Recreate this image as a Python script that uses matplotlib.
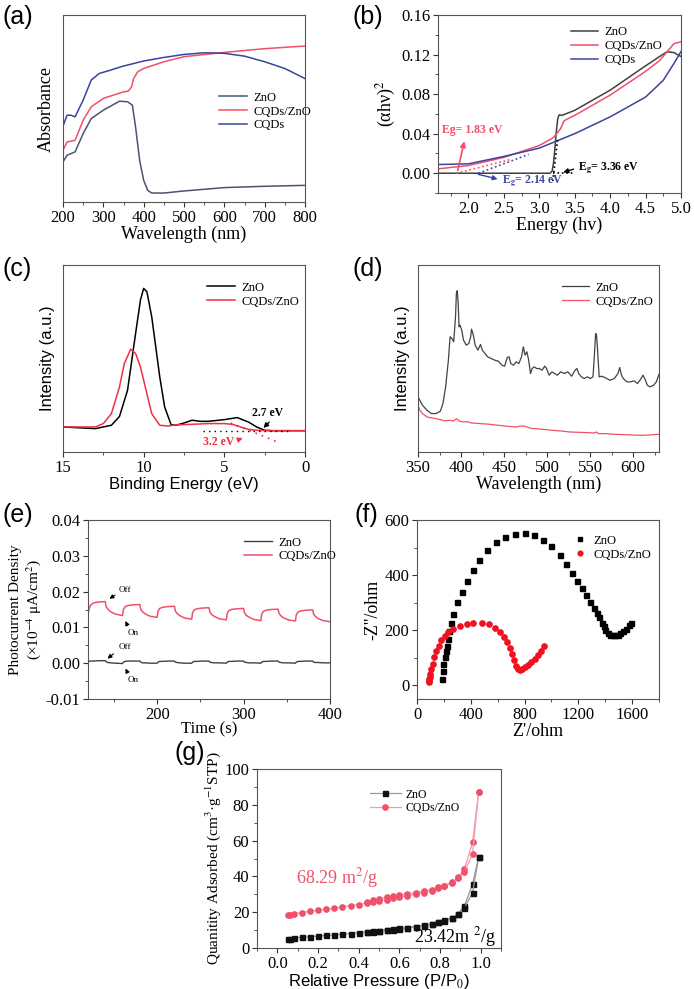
import numpy as np
import matplotlib
matplotlib.use("Agg")
import matplotlib.pyplot as plt
from matplotlib.ticker import AutoMinorLocator

plt.rcParams["font.family"] = ["Liberation Serif", "DejaVu Serif"]
plt.rcParams["mathtext.fontset"] = "stix"
plt.rcParams["axes.edgecolor"] = "#555555"
plt.rcParams["xtick.color"] = "#333333"
plt.rcParams["ytick.color"] = "#333333"
plt.rcParams["xtick.labelcolor"] = "black"
plt.rcParams["ytick.labelcolor"] = "black"

SANS = ["Liberation Sans", "DejaVu Sans"]
C_ZNO = "#4a5470"
C_RED = "#f0506a"
C_BLUE = "#3a44a0"

# (a) UV-vis absorbance (normalised)
a_zno_x = [200, 210, 220, 230, 250, 270, 300, 340, 360, 372, 380, 390, 400, 410, 420, 450, 500, 600, 700, 800]
a_zno_y = [0.214, 0.25, 0.259, 0.268, 0.366, 0.446, 0.491, 0.539, 0.536, 0.518, 0.40, 0.223, 0.116, 0.0625, 0.048, 0.048, 0.059, 0.077, 0.084, 0.089]
a_cz_x = [200, 210, 230, 250, 270, 300, 350, 362, 370, 375, 385, 400, 450, 500, 600, 700, 800]
a_cz_y = [0.277, 0.321, 0.33, 0.4375, 0.509, 0.554, 0.589, 0.593, 0.616, 0.66, 0.696, 0.714, 0.75, 0.777, 0.80, 0.82, 0.834]
a_cq_x = [200, 210, 220, 230, 250, 270, 290, 310, 350, 400, 450, 500, 550, 600, 650, 700, 750, 800]
a_cq_y = [0.405, 0.464, 0.464, 0.455, 0.545, 0.652, 0.6875, 0.70, 0.727, 0.754, 0.773, 0.789, 0.798, 0.795, 0.78, 0.75, 0.714, 0.66]

# (b) Tauc plot
b_zno_x = [1.57, 3.15, 3.18, 3.20, 3.22, 3.24, 3.26, 3.28, 3.32, 3.5, 4.0, 4.5, 4.8, 4.9, 5.0]
b_zno_y = [0.0, 0.0, 0.002, 0.010, 0.025, 0.042, 0.055, 0.059, 0.0585, 0.0636, 0.084, 0.1086, 0.1228, 0.122, 0.118]
b_cz_x = [1.57, 2.0, 2.5, 3.0, 3.2, 3.3, 3.35, 3.4, 3.5, 4.0, 4.5, 4.7, 4.9, 5.0]
b_cz_y = [0.0044, 0.0078, 0.016, 0.028, 0.036, 0.045, 0.053, 0.055, 0.0585, 0.079, 0.103, 0.114, 0.131, 0.133]
b_cq_x = [1.57, 2.0, 2.5, 3.0, 3.5, 4.0, 4.5, 4.75, 4.9, 5.0]
b_cq_y = [0.0088, 0.0095, 0.017, 0.0254, 0.040, 0.057, 0.077, 0.094, 0.111, 0.123]

# (c) VB-XPS
c_zno_x = [15, 13, 12, 11.5, 11, 10.5, 10.2, 10.0, 9.8, 9.5, 9.0, 8.7, 8.3, 8.0, 7.5, 7.0, 6.5, 6.0, 5.0, 4.2, 3.5, 3.0, 2.5, 2.0, 0]
c_zno_y = [0.134, 0.125, 0.143, 0.19, 0.33, 0.634, 0.8125, 0.875, 0.857, 0.723, 0.40, 0.241, 0.146, 0.143, 0.155, 0.17, 0.164, 0.164, 0.173, 0.184, 0.16, 0.134, 0.116, 0.114, 0.114]
c_cz_x = [15, 13, 12.5, 12, 11.5, 11.2, 10.8, 10.5, 10.2, 9.8, 9.5, 9.0, 8.5, 8.0, 7.0, 6.0, 5.0, 4.5, 4.0, 3.5, 3.0, 2.0, 0]
c_cz_y = [0.134, 0.134, 0.152, 0.205, 0.348, 0.473, 0.55, 0.527, 0.455, 0.3125, 0.205, 0.143, 0.139, 0.145, 0.148, 0.152, 0.152, 0.148, 0.134, 0.121, 0.116, 0.114, 0.114]

# (d) PL spectra (intensity read as pixel rows of the reference, 605 = baseline)
d_zno_x = [350, 355.2, 360.4, 365.6, 370.7, 375.9, 379.0, 382.1, 385.3, 387.3, 389.4, 391.5, 393.6, 394.6, 395.6,
           396.7, 397.7, 398.7, 400.8, 402.9, 406.0, 409.1, 411.2, 412.2, 414.3, 416.4, 419.5, 422.6, 424.7,
           427.8, 430.9, 435.0, 439.2, 443.3, 447.5, 450.6, 453.7, 455.8, 457.8, 461.0, 464.1, 467.2, 470.3,
           472.4, 474.4, 476.5, 478.6, 480.7, 482.7, 484.8, 487.9, 491.0, 494.1, 497.3, 499.3, 502.4, 505.6,
           508.7, 511.8, 515.9, 520.1, 524.2, 528.4, 532.5, 534.6, 536.7, 539.8, 542.9, 547.0, 550.1, 553.3,
           555.3, 556.4, 557.4, 558.4, 560.5, 563.6, 567.8, 573.0, 578.1, 582.3, 584.4, 586.4, 588.5, 592.7,
           596.8, 601.0, 605.1, 609.2, 611.3, 613.4, 616.5, 619.6, 623.8, 626.9, 630]
d_zno_p = [440, 465, 480, 490, 490, 483, 460, 410, 330, 260, 265, 275, 200, 130, 122, 160, 230, 225, 240, 270,
           285, 280, 260, 237, 255, 285, 300, 283, 300, 310, 320, 325, 330, 333, 345, 348, 322, 320, 340, 345,
           335, 340, 320, 290, 315, 305, 330, 370, 355, 350, 355, 355, 360, 348, 355, 375, 365, 370, 375, 365,
           370, 365, 378, 360, 355, 370, 380, 385, 380, 385, 380, 300, 250, 255, 290, 380, 378, 383, 390, 385,
           370, 352, 375, 385, 395, 395, 392, 400, 385, 375, 385, 405, 410, 405, 395, 372]
d_cz_x = [350, 352.1, 355.2, 360.4, 365.6, 370.7, 375.9, 381.1, 386.3, 391.5, 394.6, 397.7, 401.9, 407.0,
          412.2, 422.6, 433.0, 443.3, 453.7, 464.1, 469.3, 474.4, 479.6, 484.8, 495.2, 505.6, 515.9, 526.3,
          536.7, 547.0, 555.3, 557.4, 559.5, 567.8, 578.1, 588.5, 598.9, 609.2, 619.6, 630]
d_cz_p = [465, 480, 490, 500, 503, 505, 508, 512, 510, 512, 505, 512, 515, 514, 518, 520, 522, 525, 528, 530,
          527, 528, 533, 535, 537, 540, 542, 545, 546, 547, 548, 545, 550, 550, 552, 553, 554, 555, 554, 552]

# (e) transient photocurrent
e_t = [120, 121, 123, 126, 132, 140,
       141, 143, 146, 152, 160, 161, 163, 166, 172, 180,
       181, 183, 186, 192, 200, 201, 203, 206, 212, 220,
       221, 223, 226, 232, 240, 241, 243, 246, 252, 260,
       261, 263, 266, 272, 280, 281, 283, 286, 292, 300,
       301, 303, 306, 312, 320, 321, 323, 326, 332, 340,
       341, 343, 346, 352, 360, 361, 363, 366, 372, 380,
       381, 383, 386, 392, 400]
e_cz = [0.0135, 0.0150, 0.0162, 0.0168, 0.0171, 0.0172,
        0.0158, 0.0151, 0.0144, 0.0137, 0.0133, 0.0150, 0.0158, 0.0161, 0.0163, 0.0164,
        0.0151, 0.0144, 0.0138, 0.0131, 0.0128, 0.0145, 0.0153, 0.0156, 0.0158, 0.0159,
        0.0146, 0.0139, 0.0133, 0.0126, 0.0123, 0.0141, 0.0149, 0.0152, 0.0154, 0.0155,
        0.0143, 0.0136, 0.0131, 0.0124, 0.0121, 0.0139, 0.0147, 0.0150, 0.0152, 0.0153,
        0.0141, 0.0134, 0.0129, 0.0122, 0.0119, 0.0137, 0.0145, 0.0148, 0.0150, 0.0151,
        0.0139, 0.0133, 0.0127, 0.0121, 0.0118, 0.0135, 0.0143, 0.0146, 0.0148, 0.0149,
        0.0137, 0.0131, 0.0125, 0.0119, 0.0116]
e_zno = [0.0004, 0.0005, 0.0006, 0.0006, 0.0007, 0.0007,
         0.0004, 0.0002, 0.0001, 0.0000, -0.0001, 0.0003, 0.0005, 0.0006, 0.0006, 0.0006,
         0.0003, 0.0001, 0.0001, 0.0000, 0.0000, 0.0003, 0.0005, 0.0005, 0.0006, 0.0006,
         0.0003, 0.0002, 0.0001, 0.0000, 0.0000, 0.0003, 0.0005, 0.0005, 0.0006, 0.0006,
         0.0003, 0.0002, 0.0001, 0.0001, 0.0000, 0.0003, 0.0005, 0.0005, 0.0006, 0.0006,
         0.0003, 0.0002, 0.0001, 0.0001, 0.0000, 0.0003, 0.0005, 0.0005, 0.0006, 0.0006,
         0.0003, 0.0002, 0.0001, 0.0001, 0.0000, 0.0003, 0.0005, 0.0005, 0.0006, 0.0006,
         0.0003, 0.0002, 0.0002, 0.0001, 0.0001]

# (f) Nyquist plot
f_zno_x = [185, 192, 197, 205, 212, 222, 229, 239, 254, 271, 301, 333, 370, 414, 463, 520, 587, 653, 727, 801,
           870, 937, 998, 1060, 1109, 1151, 1191, 1228, 1257, 1289, 1319, 1336, 1356, 1376, 1388, 1400, 1418,
           1437, 1455, 1474, 1492, 1511, 1533, 1553, 1578, 1590]
f_zno_y = [24, 53, 77, 101, 126, 144, 169, 196, 226, 260, 303, 339, 379, 418, 456, 490, 520, 538, 550, 551,
           544, 528, 505, 474, 440, 407, 379, 352, 328, 303, 279, 263, 246, 226, 214, 202, 191,
           183, 181, 181, 183, 189, 197, 205, 218, 226]
f_cz_x = [86, 89, 91, 95, 99, 106, 116, 128, 143, 160, 180, 205, 234, 271, 320, 370, 419, 481, 537, 579,
          616, 646, 671, 690, 708, 722, 740, 752, 764, 782, 801, 826, 851, 875, 900, 925, 942]
f_cz_y = [10, 16, 22, 31, 40, 59, 77, 101, 126, 144, 163, 177, 193, 205, 216, 224, 226, 226, 221, 209,
          193, 175, 156, 136, 114, 92, 71, 59, 55, 59, 65, 75, 83, 95, 108, 123, 142]

# (g) N2 isotherms
g_p = [0.05, 0.06, 0.08, 0.12, 0.16, 0.20, 0.24, 0.28, 0.32, 0.36, 0.40, 0.44, 0.47, 0.50, 0.54, 0.57,
       0.60, 0.64, 0.68, 0.72, 0.76, 0.79, 0.82, 0.86, 0.89, 0.92, 0.96, 0.99]
g_zno_ads = [5.2, 5.3, 5.6, 6.0, 6.3, 6.6, 7.0, 7.3, 7.7, 8.1, 8.5, 8.9, 9.2, 9.5, 9.9, 10.3,
             10.7, 11.2, 11.8, 12.5, 13.3, 14.3, 15.3, 16.8, 19.0, 22.5, 30.8, 50.8]
g_cz_ads = [18.3, 18.6, 19.2, 19.8, 20.5, 21.0, 21.6, 22.3, 23.0, 23.7, 24.3, 25.0, 25.6, 26.3, 27.0, 27.7,
            28.4, 29.2, 30.1, 31.0, 32.1, 33.4, 34.6, 36.3, 38.9, 42.5, 52.5, 87.2]
g_pd = [0.99, 0.96, 0.92, 0.89, 0.86, 0.82, 0.79, 0.76, 0.72, 0.68, 0.64, 0.60, 0.57, 0.54, 0.50, 0.47, 0.44]
g_zno_des = [50.8, 35.6, 23.5, 19.2, 17.0, 15.5, 14.5, 13.5, 12.7, 12.0, 11.4, 10.9, 10.5, 10.1, 9.7, 9.4, 9.0]
g_cz_des = [87.2, 59.0, 44.0, 39.5, 36.8, 34.8, 34.0, 32.6, 31.8, 31.0, 30.2, 29.5, 28.8, 28.3, 27.5, 26.6, 25.5]

W, H = 694, 989
fig = plt.figure(figsize=(W / 100, H / 100), dpi=100)


def box(x0, y0, x1, y1):
    return fig.add_axes([x0 / W, 1 - y1 / H, (x1 - x0) / W, (y1 - y0) / H])


def style(ax, yticks=True):
    ax.tick_params(direction="out", length=3.5, width=0.8, labelsize=12, pad=2)
    ax.tick_params(which="minor", direction="out", length=2, width=0.6)
    ax.xaxis.set_minor_locator(AutoMinorLocator(2))
    if yticks:
        ax.yaxis.set_minor_locator(AutoMinorLocator(2))
    else:
        ax.set_yticks([])
    ax.tick_params(top=False, right=False)


def leg(ax, **kw):
    return ax.legend(frameon=False, fontsize=9, handlelength=2.2, handletextpad=0.5, labelspacing=0.15, **kw)


# (a)
ax = box(63, 15, 305, 202)
ax.plot(a_zno_x, a_zno_y, color=C_ZNO, lw=1.1, label="ZnO")
ax.plot(a_cz_x, a_cz_y, color=C_RED, lw=1.1, label="CQDs/ZnO")
ax.plot(a_cq_x, a_cq_y, color=C_BLUE, lw=1.1, label="CQDs")
ax.set_xlim(200, 800)
ax.set_ylim(0, 1)
style(ax, yticks=False)
ax.set_xticks([200, 300, 400, 500, 600, 700, 800])
ax.set_xlabel("Wavelength (nm)", fontsize=13, labelpad=0)
ax.set_ylabel("Absorbance", fontsize=13, labelpad=6)
leg(ax, loc="upper left", bbox_to_anchor=(0.6, 0.65))

# (b)
ax = box(438, 15, 681, 193)
ax.plot(b_zno_x, b_zno_y, color="#404040", lw=1.1, label="ZnO")
ax.plot(b_cz_x, b_cz_y, color=C_RED, lw=1.1, label="CQDs/ZnO")
ax.plot(b_cq_x, b_cq_y, color=C_BLUE, lw=1.1, label="CQDs")
ax.plot([1.83, 2.6], [0.0, 0.014], ls=":", color=C_RED, lw=1.2)
ax.plot([2.14, 2.85], [0.0, 0.019], ls=":", color=C_BLUE, lw=1.2)
ax.plot([3.19, 3.26], [-0.008, 0.035], ls=":", color="black", lw=1.2)
ax.plot([3.2, 3.5], [0.0, 0.0], ls=":", color="black", lw=1.2)
ax.set_xlim(1.57, 5.0)
ax.set_ylim(-0.02, 0.16)
style(ax)
ax.set_xticks([2.0, 2.5, 3.0, 3.5, 4.0, 4.5, 5.0])
ax.set_yticks([0.0, 0.04, 0.08, 0.12, 0.16])
ax.set_yticklabels(["0.00", "0.04", "0.08", "0.12", "0.16"])
ax.set_xlabel("Energy (hv)", fontsize=13, labelpad=0)
ax.set_ylabel("(αhν)$^2$", fontsize=13, labelpad=2)
ax.annotate("", xy=(1.95, 0.035), xytext=(1.84, 0.0),
            arrowprops=dict(arrowstyle="-|>", color=C_RED, lw=1.2, mutation_scale=8))
ax.text(1.63, 0.041, "Eg= 1.83 eV", color=C_RED, fontsize=8.5, fontweight="bold")
ax.annotate("", xy=(2.45, -0.0065), xytext=(2.1, -0.0005),
            arrowprops=dict(arrowstyle="-|>", color=C_BLUE, lw=1.0, mutation_scale=7))
ax.text(2.47, -0.0105, r"E$_\mathbf{g}$= 2.14 eV", color=C_BLUE, fontsize=8.5, fontweight="bold")
ax.annotate("", xy=(3.3, 0.0), xytext=(3.52, 0.005),
            arrowprops=dict(arrowstyle="-|>", color="black", lw=1.0, mutation_scale=7))
ax.text(3.55, 0.003, r"E$_\mathbf{g}$= 3.36 eV", color="black", fontsize=8.5, fontweight="bold")
leg(ax, loc="upper left", bbox_to_anchor=(0.5, 1.0))

# (c)
ax = box(63, 265, 305, 452)
ax.plot(c_zno_x, c_zno_y, color="black", lw=1.1, label="ZnO")
ax.plot(c_cz_x, c_cz_y, color="#f03040", lw=1.1, label="CQDs/ZnO")
ax.plot([6.3, 1.0], [0.114, 0.114], ls=(0, (1, 3)), color="black", lw=1.0)
ax.plot([4.6, 1.6], [0.155, 0.05], ls=(0, (1, 3)), color="#f03040", lw=1.2)
ax.set_xlim(15, 0)
ax.set_ylim(0, 1)
style(ax, yticks=False)
ax.set_xticks([15, 10, 5, 0])
ax.set_xlabel("Binding Energy (eV)", fontsize=12, family=SANS, labelpad=1)
ax.set_ylabel("Intensity (a.u.)", fontsize=12, family=SANS, labelpad=6)
ax.annotate("", xy=(2.7, 0.118), xytext=(2.1, 0.17),
            arrowprops=dict(arrowstyle="-|>", color="black", lw=1.0, mutation_scale=7))
ax.text(3.3, 0.19, "2.7 eV", fontsize=8.5, fontweight="bold", color="black")
ax.annotate("", xy=(3.7, 0.08), xytext=(4.3, 0.06),
            arrowprops=dict(arrowstyle="-|>", color="#f03040", lw=1.0, mutation_scale=7))
ax.text(6.3, 0.04, "3.2 eV", fontsize=8.5, fontweight="bold", color="#f03040")
leg(ax, loc="upper left", bbox_to_anchor=(0.55, 0.97))

# (d)
ax = box(418, 265, 659, 452)
ax.plot(d_zno_x, (605 - np.array(d_zno_p)) / 560, color="#3c4448", lw=0.9, label="ZnO")
ax.plot(d_cz_x, (605 - np.array(d_cz_p)) / 560, color=C_RED, lw=0.9, label="CQDs/ZnO")
ax.set_xlim(350, 630)
ax.set_ylim(0, 1)
style(ax, yticks=False)
ax.set_xticks([350, 400, 450, 500, 550, 600])
ax.set_xlabel("Wavelength (nm)", fontsize=13, labelpad=0)
ax.set_ylabel("Intensity (a.u.)", fontsize=12, family=SANS, labelpad=6)
leg(ax, loc="upper left", bbox_to_anchor=(0.55, 0.97))

# (e)
ax = box(88, 520, 330, 699)
ax.plot(e_t, e_zno, color="#404040", lw=1.0, label="ZnO")
ax.plot(e_t, e_cz, color=C_RED, lw=1.1, label="CQDs/ZnO")
ax.set_xlim(120, 400)
ax.set_ylim(-0.01, 0.04)
style(ax)
ax.set_xticks([200, 300, 400])
ax.set_yticks([-0.01, 0.0, 0.01, 0.02, 0.03, 0.04])
ax.set_yticklabels(["-0.01", "0.00", "0.01", "0.02", "0.03", "0.04"])
ax.set_xlabel("Time (s)", fontsize=12, labelpad=-1)
ax.set_ylabel("Photocurrent Density\n(×10$^{-4}$ μA/cm$^2$)", fontsize=11, labelpad=2, linespacing=1.15)
arr = dict(arrowstyle="-|>", color="black", lw=0.8, mutation_scale=6)
ax.annotate("", xy=(142, 0.0176), xytext=(154, 0.0194), arrowprops=arr)
ax.text(155, 0.0198, "Off", fontsize=6.5)
ax.annotate("", xy=(162, 0.0125), xytext=(167, 0.0098), arrowprops=arr)
ax.text(166, 0.0078, "On", fontsize=6.5)
ax.annotate("", xy=(140, 0.0008), xytext=(152, 0.0031), arrowprops=arr)
ax.text(155, 0.0040, "Off", fontsize=6.5)
ax.annotate("", xy=(162, -0.0008), xytext=(167, -0.0033), arrowprops=arr)
ax.text(166, -0.0052, "On", fontsize=6.5)
leg(ax, loc="upper left", bbox_to_anchor=(0.6, 0.97))

# (f)
ax = box(417, 520, 659, 699)
ax.plot(f_zno_x, f_zno_y, ls="none", marker="s", ms=3.6, color="black", label="ZnO")
ax.plot(f_cz_x, f_cz_y, ls="none", marker="o", ms=3.8, color="#f01020", label="CQDs/ZnO")
ax.set_xlim(0, 1800)
ax.set_ylim(-50, 600)
style(ax)
ax.set_xticks([0, 400, 800, 1200, 1600])
ax.set_yticks([0, 200, 400, 600])
ax.set_xlabel("Z'/ohm", fontsize=13, labelpad=0)
ax.set_ylabel("-Z''/ohm", fontsize=13, labelpad=2)
ax.legend(frameon=False, fontsize=9, loc="upper left", bbox_to_anchor=(0.6, 0.98),
          handlelength=1.0, handletextpad=0.6, labelspacing=0.15, markerscale=0.9)

# (g)
ax = box(257, 769, 501, 948)
ax.plot(g_pd, g_zno_des, color="#999999", lw=0.9, marker="s", ms=3.6, mfc="#111111", mec="#111111")
ax.plot(g_pd, g_cz_des, color="#f59aa8", lw=0.9, marker="o", ms=3.8, mfc=C_RED, mec=C_RED)
ax.plot(g_p, g_zno_ads, color="#999999", lw=0.9, marker="s", ms=3.6, mfc="#111111", mec="#111111",
        label="ZnO")
ax.plot(g_p, g_cz_ads, color="#f59aa8", lw=0.9, marker="o", ms=3.8, mfc=C_RED, mec=C_RED,
        label="CQDs/ZnO")
ax.set_xlim(-0.1, 1.1)
ax.set_ylim(0, 100)
style(ax)
ax.set_xticks([0.0, 0.2, 0.4, 0.6, 0.8, 1.0])
ax.set_xticklabels(["0.0", "0.2", "0.4", "0.6", "0.8", "1.0"])
ax.set_yticks([0, 20, 40, 60, 80, 100])
ax.set_xlabel("Relative Pressure (P/P$_0$)", fontsize=12, family=SANS, labelpad=0)
ax.set_ylabel("Quanitity Adsorbed (cm$^3$·g$^{-1}$STP)", fontsize=11, labelpad=1)
ax.text(0.09, 36, "68.29 m$^2$/g", color=C_RED, fontsize=13)
ax.text(0.67, 3.0, "23.42m $^2$/g", color="black", fontsize=13)
ax.legend(frameon=False, fontsize=8.5, loc="upper left", bbox_to_anchor=(0.42, 0.95),
          handlelength=2.6, handletextpad=0.4, labelspacing=0.15)

# panel letters
for lbl, x, y in [("(a)", 2, 5), ("(b)", 352, 5), ("(c)", 2, 257), ("(d)", 352, 257),
                  ("(e)", 2, 503), ("(f)", 355, 503), ("(g)", 174, 741)]:
    fig.text(x / W, 1 - y / H, lbl, fontsize=18, family=SANS, va="top", ha="left")

fig.savefig("out.png", dpi=100)
